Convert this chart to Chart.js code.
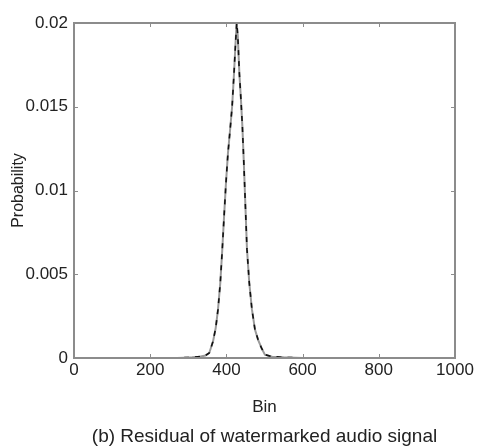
<!DOCTYPE html>
<html>
<head>
<meta charset="utf-8">
<script src="https://cdn.jsdelivr.net/npm/chart.js@4/dist/chart.umd.min.js"></script>
<style>
  html, body { margin: 0; padding: 0; background: #fff; }
  #wrap { width: 478px; height: 447px; position: relative; }
</style>
</head>
<body>
<div id="wrap"><canvas id="c" width="478" height="447"></canvas></div>
<script>
// Histogram of the residual: bin index and probability per bin
const bins  = [0, 270, 290, 310, 330, 345, 355, 365, 372, 378, 384, 389, 394, 399, 404, 410, 415, 420, 424, 427,
               430, 434, 438, 442, 446, 450, 454, 460, 467, 475, 483, 492, 501, 520, 550, 580, 600, 1000];
const probs = [0, 0, 0.00002, 0.00004, 0.00008, 0.00015, 0.0003, 0.001, 0.0018, 0.0029, 0.0045, 0.0064, 0.0085, 0.0105, 0.0122, 0.0137, 0.015, 0.017, 0.0188, 0.02,
               0.0192, 0.017, 0.0155, 0.0138, 0.0115, 0.009, 0.0065, 0.0045, 0.0029, 0.0017, 0.0011, 0.0006, 0.0002, 0.00008, 0.00004, 0.00002, 0, 0];

const xTicks = [0, 200, 400, 600, 800, 1000];
const yTicks = [0, 0.005, 0.01, 0.015, 0.02];
const caption = '(b) Residual of watermarked audio signal';

const points = bins.map((b, i) => ({ x: b, y: probs[i] }));

const FONT = "'Liberation Sans', Arial, sans-serif";
const TEXT = '#222';
const FRAME = '#8c8c8c';

// Box around the plot with short inward tick marks on all four sides,
// plus the caption centred under the plot
const boxPlugin = {
  id: 'boxFrame',
  afterDatasetsDraw(chart) {
    const { ctx, chartArea: a, scales } = chart;
    ctx.save();
    ctx.strokeStyle = FRAME;
    ctx.lineWidth = 1;
    const len = 4;
    ctx.beginPath();
    xTicks.forEach(v => {
      const px = Math.round(scales.x.getPixelForValue(v)) + 0.5;
      ctx.moveTo(px, a.bottom); ctx.lineTo(px, a.bottom - len);
      ctx.moveTo(px, a.top); ctx.lineTo(px, a.top + len);
    });
    yTicks.forEach(v => {
      const py = Math.round(scales.y.getPixelForValue(v)) + 0.5;
      ctx.moveTo(a.left, py); ctx.lineTo(a.left + len, py);
      ctx.moveTo(a.right, py); ctx.lineTo(a.right - len, py);
    });
    ctx.stroke();
    ctx.lineWidth = 2;
    ctx.strokeRect(a.left, a.top, a.right - a.left, a.bottom - a.top);
    ctx.restore();
  },
  afterDraw(chart) {
    const { ctx, chartArea: a } = chart;
    ctx.save();
    ctx.fillStyle = TEXT;
    ctx.font = '19px ' + FONT;
    ctx.textAlign = 'center';
    ctx.textBaseline = 'middle';
    ctx.fillText(caption, (a.left + a.right) / 2, chart.height - 10);
    ctx.restore();
  }
};

new Chart(document.getElementById('c'), {
  type: 'line',
  data: {
    datasets: [
      {
        // dark dashes drawn over the grey trace
        data: points,
        order: 0,
        borderColor: '#111',
        borderWidth: 1.6,
        borderDash: [5, 6],
        pointRadius: 0,
        tension: 0,
        fill: false
      },
      {
        data: points,
        order: 1,
        borderColor: '#9a9a9a',
        borderWidth: 2,
        pointRadius: 0,
        tension: 0,
        fill: false
      }
    ]
  },
  plugins: [boxPlugin],
  options: {
    responsive: false,
    animation: false,
    layout: { padding: { left: 9, right: 23, top: 23, bottom: 29 } },
    plugins: {
      legend: { display: false },
      tooltip: { enabled: false },
      title: { display: false }
    },
    scales: {
      x: {
        type: 'linear',
        min: 0,
        max: 1000,
        afterBuildTicks(scale) { scale.ticks = xTicks.map(v => ({ value: v })); },
        grid: { display: false, drawTicks: false },
        border: { display: false },
        ticks: {
          color: TEXT,
          font: { family: FONT, size: 17 },
          padding: 2,
          maxRotation: 0,
          callback: v => String(v)
        },
        title: {
          display: true,
          text: 'Bin',
          color: TEXT,
          font: { family: FONT, size: 17 },
          padding: { top: 0, bottom: 0 }
        },
        afterFit(scale) { scale.height = 60; }
      },
      y: {
        type: 'linear',
        min: 0,
        max: 0.02,
        afterBuildTicks(scale) { scale.ticks = yTicks.map(v => ({ value: v })); },
        grid: { display: false, drawTicks: false },
        border: { display: false },
        ticks: {
          color: TEXT,
          font: { family: FONT, size: 17 },
          padding: 6,
          callback: v => String(Math.round(v * 1000) / 1000)
        },
        title: {
          display: true,
          text: 'Probability',
          color: TEXT,
          font: { family: FONT, size: 16 },
          padding: { top: 0, bottom: 0 }
        },
        afterFit(scale) { scale.width = 65; }
      }
    }
  }
});
</script>
</body>
</html>
